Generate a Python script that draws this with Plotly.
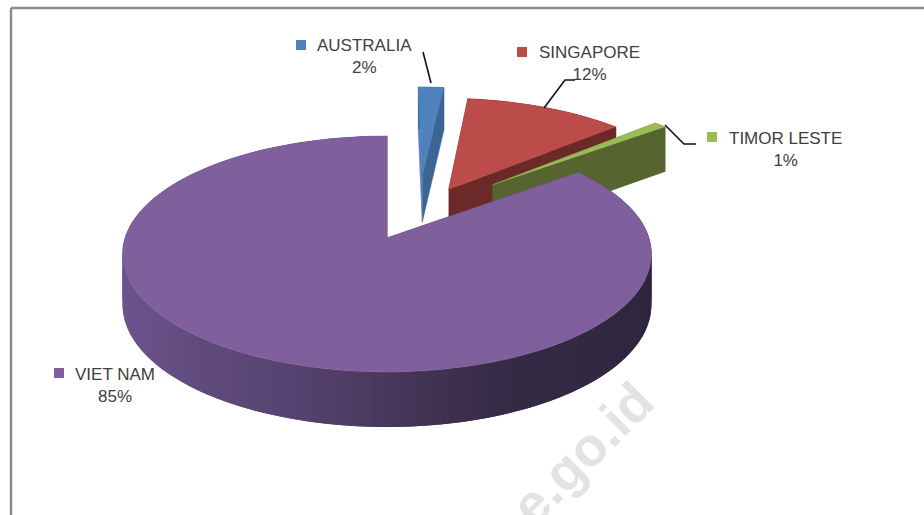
import math
import plotly.graph_objects as go

# ---- data ----
categories = ["AUSTRALIA", "SINGAPORE", "TIMOR LESTE", "VIET NAM"]
shares = [1.9, 11.7, 0.9, 85.5]
share_labels = ["2%", "12%", "1%", "85%"]

# ---- styles / layout parameters ----
top_colors = ["#4f81bd", "#bb4c4a", "#9bbb59", "#7f609d"]
start_face = ["#4f81bd", "#6b2a28", "#56652f", "#4a3860"]
end_face = ["#3a6595", "#6b2a28", "#56652f", "#4a3860"]
# explosion of each slice in the pie plane (sideways, depth), in radii
explode = [(0.145, -0.585), (0.25, -0.445), (0.43, -0.49), (0.0, 0.0)]
key_pos = [(301, 45), (522, 52), (712, 137), (59, 373)]
label_pos = [(364, 56), (589, 63), (785, 149), (115, 385)]
leaders = [[(423, 52), (431, 83)],
           [(575, 80), (565, 80), (544, 108)],
           [(665, 125), (684, 144), (696, 144)]]

APEX_X, APEX_Y = 387.0, 238.0
RX, RY, PERSP = 262.0, 115.8, 0.1356
wall_stops = [(121, (108, 84, 140)), (200, (96, 75, 124)), (300, (86, 66, 112)),
              (400, (70, 54, 90)), (500, (54, 43, 70)), (650, (46, 38, 62))]


def project(x, y, drop=0.0):
    s = 1.0 / (1.0 - PERSP * y)
    depth = (50.0 + 5.0 * y) * drop
    return APEX_X + RX * x * s, APEX_Y + RY * y * s + depth


def rim(angle_deg, dx, dy):
    a = math.radians(angle_deg)
    return dx + math.sin(a), dy - math.cos(a)


def wall_color(px):
    for (x0, c0), (x1, c1) in zip(wall_stops, wall_stops[1:]):
        if px <= x1:
            t = max(0.0, (px - x0) / (x1 - x0))
            c = [round(a + (b - a) * t) for a, b in zip(c0, c1)]
            return "rgb(%d,%d,%d)" % tuple(c)
    return "rgb(%d,%d,%d)" % wall_stops[-1][1]


fig = go.Figure()


def polygon(points, color, width=0.6):
    fig.add_trace(go.Scatter(
        x=[p[0] for p in points], y=[p[1] for p in points],
        mode="lines", fill="toself", fillcolor=color,
        line=dict(color=color, width=width), hoverinfo="skip", showlegend=False))


total = sum(shares)
bounds = []
running = 0.0
for v in shares:
    bounds.append((running, running + v / total * 360.0))
    running += v / total * 360.0
# slices are drawn back to front
for i, (a0, a1) in enumerate(bounds):
    dx, dy = explode[i]
    steps = max(6, int((a1 - a0) / 1.5))
    angles = [a0 + (a1 - a0) * k / steps for k in range(steps + 1)]
    arc = [rim(a, dx, dy) for a in angles]
    apex = (dx, dy)
    polygon([project(*apex), project(*arc[0]), project(*arc[0], 1), project(*apex, 1)], start_face[i])
    polygon([project(*apex), project(*arc[-1]), project(*arc[-1], 1), project(*apex, 1)], end_face[i])
    for k in range(len(arc) - 1):
        # each wall strip reaches over the next one, so no seam shows between them
        chunk = arc[k:k + 3]
        upper = [project(*p) for p in chunk]
        lower = [project(*p, 1) for p in reversed(chunk)]
        col = wall_color((upper[0][0] + upper[1][0]) / 2) if i == 3 else end_face[i]
        polygon(upper + lower, col, width=0)
    polygon([project(*apex)] + [project(*p) for p in arc], top_colors[i])

# leader lines
for seg in leaders:
    fig.add_trace(go.Scatter(x=[p[0] for p in seg], y=[p[1] for p in seg], mode="lines",
                             line=dict(color="#111111", width=1.6),
                             hoverinfo="skip", showlegend=False))
# legend keys
fig.add_trace(go.Scatter(x=[p[0] for p in key_pos], y=[p[1] for p in key_pos], mode="markers",
                         marker=dict(symbol="square", size=10, color=top_colors),
                         hoverinfo="skip", showlegend=False))

annotations = []
for name, lab, (x, y) in zip(categories, share_labels, label_pos):
    annotations.append(dict(x=x, y=y, xref="x", yref="y", showarrow=False,
                            text=f"{name}<br>{lab}", align="center",
                            font=dict(family="Liberation Sans", size=17, color="#404040")))
annotations.append(dict(x=582, y=453, xref="x", yref="y", showarrow=False, text="e.go.id",
                        textangle=-45,
                        font=dict(family="Liberation Sans", size=54, color="#e3e3e3", weight="bold")))

fig.update_layout(
    width=924, height=515, margin=dict(l=0, r=0, t=0, b=0),
    paper_bgcolor="white", plot_bgcolor="white", showlegend=False,
    xaxis=dict(range=[0, 924], visible=False, fixedrange=True),
    yaxis=dict(range=[515, 0], visible=False, fixedrange=True),
    annotations=annotations,
    shapes=[
        dict(type="line", xref="x", yref="y", x0=11, y0=8, x1=924, y1=8,
             line=dict(color="#8c8c8c", width=2.5)),
        dict(type="line", xref="x", yref="y", x0=11, y0=8, x1=11, y1=515,
             line=dict(color="#8c8c8c", width=2.5)),
    ],
)
fig.write_html("out.html", config={"displayModeBar": False},
               post_script="document.body.style.margin='0';document.documentElement.style.overflow='hidden';")
